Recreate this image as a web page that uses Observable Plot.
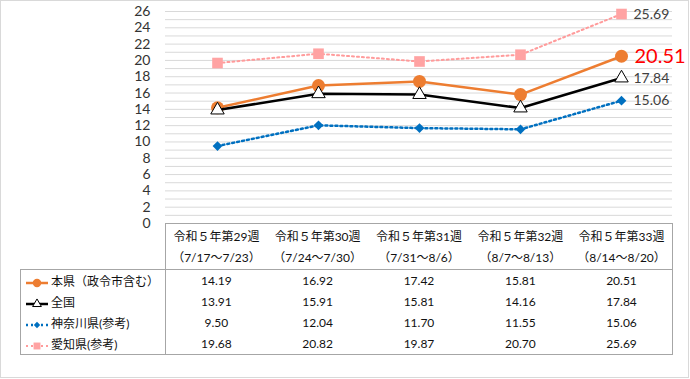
<!DOCTYPE html>
<html><head><meta charset="utf-8">
<script src="https://cdn.jsdelivr.net/npm/d3@7"></script>
<script src="https://cdn.jsdelivr.net/npm/@observablehq/plot@0.6"></script>
<style>
body{margin:0;background:#fff;}
#wrap{position:relative;width:690px;height:379px;overflow:hidden;font-family:Lato,"Noto Sans CJK JP",sans-serif;}
#frame{position:absolute;left:0;top:0;width:687px;height:376px;border:1px solid #d9d9d9;box-sizing:content-box;}
#chart{position:absolute;left:0;top:0;}
#tbl{position:absolute;left:20px;top:223px;border-collapse:collapse;table-layout:fixed;font-size:12px;color:#111;}
#tbl td{padding:0;text-align:center;white-space:nowrap;}
#tbl td.hd{height:45px;line-height:21px;vertical-align:middle;}
#tbl td.rw{height:21px;}
#tbl td.lg{text-align:left;padding-left:4px;}
.sw{vertical-align:middle;margin-right:2px;}
</style>
</head><body>
<div id="wrap"><div id="frame"></div><div id="chart"></div><table id="tbl"></table></div>
<script>
const weeks = ["令和５年第29週","令和５年第30週","令和５年第31週","令和５年第32週","令和５年第33週"];
const ranges = ["（7/17～7/23）","（7/24～7/30）","（7/31～8/6）","（8/7～8/13）","（8/14～8/20）"];
const seriesNames = ["本県（政令市含む）","全国","神奈川県(参考)","愛知県(参考)"];
const honken = [14.19,16.92,17.42,15.81,20.51];
const zenkoku = [13.91,15.91,15.81,14.16,17.84];
const kanagawa = [9.50,12.04,11.70,11.55,15.06];
const aichi = [19.68,20.82,19.87,20.70,25.69];
const yTicks = d3.range(0,27,2);
const gridValues = d3.range(1,27);

const seriesValues = [honken, zenkoku, kanagawa, aichi];
const styles = [
  {stroke:"#ED7D31", width:2.5, dash:null, symbol:"circle", r:6.5, fill:"#ED7D31", mstroke:"none", label:"#ff0000", lsize:20},
  {stroke:"#000000", width:2.5, dash:null, symbol:"triangle", r:5, fill:"#ffffff", mstroke:"#000", label:"#404040", lsize:14},
  {stroke:"#0070C0", width:2.5, dash:"2,3", symbol:"diamond2", r:4.4, fill:"#0070C0", mstroke:"none", label:"#404040", lsize:14},
  {stroke:"#FF9B9B", width:2, dash:"2,3", symbol:"square", r:6, fill:"#FFA3A3", mstroke:"none", label:"#404040", lsize:14}
];

const marks = [
  Plot.ruleY(gridValues, {stroke:"#d9d9d9", strokeWidth:1}),
  Plot.axisY(yTicks, {tickSize:0, tickPadding:15, fontSize:14, fill:"#333", label:null})
];
seriesValues.forEach((vals, i) => {
  const s = styles[i];
  const data = vals.map((v, j) => ({week: weeks[j], value: v, last: j === vals.length - 1}));
  marks.push(Plot.line(data, {x:"week", y:"value", stroke:s.stroke, strokeWidth:s.width, strokeDasharray:s.dash}));
  marks.push(Plot.dot(data, {x:"week", y:"value", symbol:s.symbol, r:s.r, fill:s.fill, stroke:s.mstroke, strokeWidth:1}));
  marks.push(Plot.text(data.filter(d => d.last), {x:"week", y:"value", text:d => d.value.toFixed(2), dx: i===0?13:12, textAnchor:"start", fill:s.label, fontSize:s.lsize}));
});

const chart = Plot.plot({
  width:690, height:236,
  marginLeft:165, marginRight:18, marginTop:11, marginBottom:13,
  style:{fontFamily:'Lato,"Noto Sans CJK JP",sans-serif', background:"transparent", overflow:"visible"},
  x:{type:"point", domain:weeks, padding:0.5, axis:null},
  y:{domain:[0,26], axis:null},
  marks
});
document.getElementById("chart").appendChild(chart);

// table
const tbl = d3.select("#tbl");
const cols = tbl.append("colgroup");
cols.append("col").style("width","145px");
weeks.forEach(() => cols.append("col").style("width","101.4px"));
const B = "1px solid #a6a6a6";
const hr = tbl.append("tr");
hr.append("td").attr("class","hd").style("border","none");
weeks.forEach((w, j) => {
  const td = hr.append("td").attr("class","hd").style("border-top",B).style("border-bottom",B);
  if (j === 0) td.style("border-left",B);
  if (j === weeks.length-1) td.style("border-right",B);
  td.html(w + "<br>" + ranges[j]);
});
seriesNames.forEach((name, i) => {
  const s = styles[i];
  const tr = tbl.append("tr");
  const td = tr.append("td").attr("class","rw lg").style("border-left",B).style("border-right",B);
  if (i === 0) td.style("border-top",B);
  if (i === seriesNames.length-1) td.style("border-bottom",B);
  const svg = td.append("svg").attr("class","sw").attr("width",24).attr("height",12);
  svg.append("line").attr("x1",1).attr("x2",23).attr("y1",6).attr("y2",6)
    .attr("stroke",s.stroke).attr("stroke-width",s.width).attr("stroke-dasharray",s.dash);
  const symMap = {circle:d3.symbolCircle, triangle:d3.symbolTriangle, diamond2:d3.symbolDiamond2, square:d3.symbolSquare};
  const area = Math.PI * Math.pow(s.r*0.65,2);
  svg.append("path").attr("transform","translate(12,6)").attr("d", d3.symbol(symMap[s.symbol], area)())
    .attr("fill", s.fill).attr("stroke", s.mstroke === "none" ? null : s.mstroke);
  td.append("span").text(name);
  seriesValues[i].forEach((v, j) => {
    const c = tr.append("td").attr("class","rw").text(v.toFixed(2));
    if (i === 0) c.style("border-top",B);
    if (i === seriesNames.length-1) c.style("border-bottom",B);
    if (j === weeks.length-1) c.style("border-right",B);
  });
});
</script>
</body></html>
